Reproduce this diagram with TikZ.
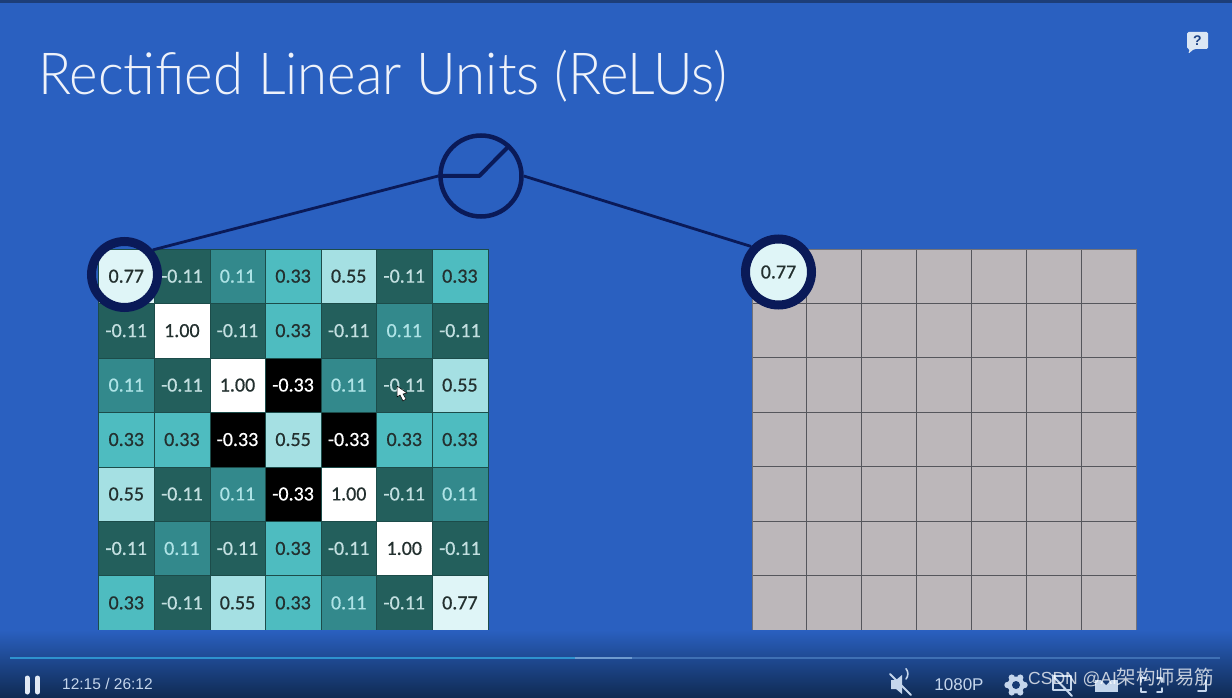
\documentclass[tikz,border=0pt]{standalone}
\usepackage{fontspec}
\setmainfont{Carlito}
\newfontfamily\cellfont[FakeBold=0.6]{Carlito}
\newfontfamily\titlefont{Lato Light}
\newfontfamily\uifont{Liberation Sans}
\newfontfamily\cjkfont[Scale=1.11]{Noto Sans CJK SC}
\usetikzlibrary{calc,shapes.geometric}
\definecolor{bgblue}{HTML}{2A60C0}
\definecolor{barbot}{HTML}{0F2A52}
\definecolor{topdark}{HTML}{1D3E78}
\definecolor{ringnavy}{HTML}{0A1A58}
\definecolor{cdark}{HTML}{235F5C}
\definecolor{cmid}{HTML}{33898C}
\definecolor{cteal}{HTML}{4EBCC0}
\definecolor{cpale}{HTML}{A5E0E3}
\definecolor{cice}{HTML}{DFF5F7}
\definecolor{cgrey}{HTML}{BCB7BA}
\definecolor{gridline}{HTML}{55565C}
\definecolor{txtdark}{HTML}{23302F}
\definecolor{uilight}{HTML}{C5D6EC}
\definecolor{barblue}{HTML}{2E92CE}
\definecolor{barlight}{HTML}{6F9BCF}
\definecolor{barfaint}{HTML}{3F70B4}
\tikzset{
  x=1pt,y=-1pt,
  cellbase/.style={minimum width=55.6pt,minimum height=54.45pt,inner sep=0pt,outer sep=0pt,font=\cellfont\fontsize{20}{22}\selectfont,draw=cdark!80!black,line width=.4pt},
  vA/.style={cellbase,fill=cdark,text=cice!85!cdark},
  vB/.style={cellbase,fill=cmid,text=cpale!90!white},
  vC/.style={cellbase,fill=cteal,text=txtdark},
  vD/.style={cellbase,fill=cpale,text=txtdark},
  vE/.style={cellbase,fill=cice,text=txtdark},
  vF/.style={cellbase,fill=white,text=txtdark},
  vG/.style={cellbase,fill=black,text=white},
  greycell/.style={minimum width=54.85pt,minimum height=54.45pt,inner sep=0pt,outer sep=0pt,fill=cgrey},
  gridrule/.style={draw=gridline,line width=1pt},
  ring/.style={circle,draw=ringnavy,line width=9pt,minimum size=66pt,inner sep=0pt},
  unit/.style={circle,draw=ringnavy,line width=4.5pt,minimum size=81pt,inner sep=0pt},
  link/.style={draw=ringnavy,line width=2.8pt},
  uitext/.style={text=uilight,font=\uifont\fontsize{16}{18}\selectfont,inner sep=0pt},
  icon/.style={draw=uilight,line width=2pt,line cap=round,line join=round},
}
\begin{document}
\begin{tikzpicture}
\useasboundingbox (0,0) rectangle (1232,698);
% background
\fill[bgblue] (0,0) rectangle (1232,698);
\fill[topdark] (0,0) rectangle (1232,3);
% title
\node[anchor=west,inner sep=0pt,text=white!92!bgblue,xscale=.94,transform shape,font=\titlefont\fontsize{58}{62}\selectfont] (title) at (38,76) {Rectified Linear Units (ReLUs)};
% help bubble
\fill[uilight!60!white,rounded corners=1.5pt] (1187,32) -- (1208,32) -- (1208,49) -- (1194,49) -- (1188,54) -- (1190,49) -- (1187,49) -- cycle;
\node[text=bgblue!70!black,font=\uifont\bfseries\fontsize{14}{14}\selectfont,inner sep=0pt] (help) at (1197.5,41) {?};
% left grid
\foreach \r [count=\j from 0] in {
 {E/0.77,A/-0.11,B/0.11,C/0.33,D/0.55,A/-0.11,C/0.33},
 {A/-0.11,F/1.00,A/-0.11,C/0.33,A/-0.11,B/0.11,A/-0.11},
 {B/0.11,A/-0.11,F/1.00,G/-0.33,B/0.11,A/-0.11,D/0.55},
 {C/0.33,C/0.33,G/-0.33,D/0.55,G/-0.33,C/0.33,C/0.33},
 {D/0.55,A/-0.11,B/0.11,G/-0.33,F/1.00,A/-0.11,B/0.11},
 {A/-0.11,B/0.11,A/-0.11,C/0.33,A/-0.11,F/1.00,A/-0.11},
 {C/0.33,A/-0.11,D/0.55,C/0.33,B/0.11,A/-0.11,E/0.77}}
{
  \foreach \s/\v [count=\i from 0] in \r {
    \node[v\s] (L\j-\i) at ({126.3+55.6*\i},{276.2+54.45*\j}) {\v};
  }
}
% right grid
\foreach \j in {0,...,6} {
  \foreach \i in {0,...,6} {
    \node[greycell] (R\j-\i) at ({779.4+54.85*\i},{276.2+54.45*\j}) {};
  }
}
\foreach \i in {1,...,6} { \draw[gridrule] (R0-\i.north west) -- (R6-\i.south west); }
\foreach \j in {1,...,6} { \draw[gridrule] (R\j-0.north west) -- (R\j-6.north east); }
\draw[gridrule,draw=gridline!70!cgrey,line width=.8pt] (R0-0.north west) -- (R0-6.north east) -- (R6-6.south east) -- (R6-0.south west) -- cycle;
% bottom darkening
\shade[top color=bgblue,bottom color=barbot] (0,630) rectangle (1232,698);
% rings and unit
\node[ring] (ringL) at (124.5,274.5) {};
\node[ring,fill=cice,text=txtdark,font=\cellfont\fontsize{20}{22}\selectfont] (ringR) at (778.5,272) {0.77};
\node[unit] (relu) at (481,176) {};
% connectors
\draw[link] (ringL.41) -- (relu.180);
\draw[link] (relu.0) -- (ringR.137);
\draw[ringnavy,line width=4pt,line join=round] (relu.180) -- ($(relu.180)+(41,0)$) -- (relu.47);
% cursor
\fill[white,draw=black,line width=.5pt] (397,386) -- (397,397) -- (400,395) -- (403,401) -- (406,399) -- (403,394) -- (407,393) -- cycle;
% progress bar
\draw[line width=2pt,draw=barfaint] (632,658) coordinate (prog) -- (1220,658) coordinate (progend);
\draw[line width=2.4pt,draw=barlight] (575,658) coordinate (buf) -- (prog);
\draw[line width=2.4pt,draw=barblue] (10,658) coordinate (progstart) -- (buf);
% pause
\draw[line width=5pt,draw=uilight!50!white,line cap=round] (27,678) -- (27,692);
\draw[line width=5pt,draw=uilight!50!white,line cap=round] (37.5,678) -- (37.5,692);
% time
\node[uitext,anchor=west,font=\uifont\fontsize{15.5}{18}\selectfont] (time) at (62,684) {12:15 / 26:12};
\node[uitext,anchor=center,font=\uifont\fontsize{17}{18}\selectfont] (qual) at (959,685) {1080P};
% muted speaker
\fill[uilight] (891,680) -- (896,680) -- (902,675) -- (902,694) -- (896,689) -- (891,689) -- cycle;
\draw[icon,line width=1.6pt] (906,679) arc[start angle=-40,end angle=40,radius=8pt];
\draw[icon] (890,674) -- (911,695);
% gear
\foreach \a in {0,60,...,300} { \fill[uilight] ($(1016,685)+(\a:8.5)$) circle[radius=3.2pt]; }
\fill[uilight] (1016,685) circle[radius=8.5pt];
\fill[barbot!70!bgblue] (1016,685) circle[radius=4pt];
% other icons
\draw[icon] (1053,676) -- (1071,676) -- (1071,690) -- (1053,690) -- cycle;
\draw[icon] (1052,675) -- (1072,696);
\fill[uilight] (1095,680) rectangle (1118,692);
\fill[barbot!70!bgblue] (1101,680) -- (1106,685) -- (1111,680) -- cycle;
\draw[icon] (1141,682) -- (1141,678) -- (1146,678);
\draw[icon] (1157,678) -- (1162,678) -- (1162,682);
\draw[icon] (1162,688) -- (1162,692) -- (1157,692);
\draw[icon] (1146,692) -- (1141,692) -- (1141,688);
\draw[icon] (1198,691) -- (1206,691) -- (1206,680);
% watermark
\node[anchor=west,inner sep=0pt,text=white,opacity=.75,font=\uifont\fontsize{17.5}{20}\selectfont] (mark) at (1028,678) {CSDN @AI{\cjkfont 架构师易筋}};
\end{tikzpicture}
\end{document}
